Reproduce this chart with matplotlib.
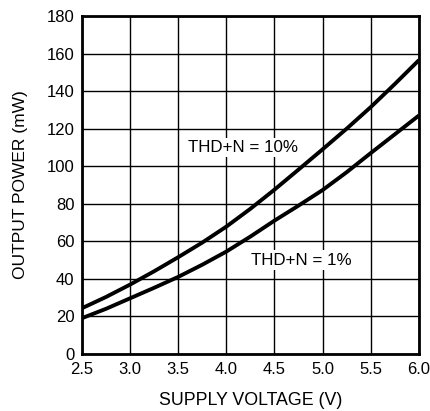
import numpy as np
import matplotlib
matplotlib.use("Agg")
import matplotlib.pyplot as plt

plt.rcParams['font.family'] = ['Liberation Sans', 'DejaVu Sans']

voltage = [2.5, 2.75, 3.0, 3.25, 3.5, 3.75, 4.0, 4.25, 4.5, 4.75, 5.0, 5.25, 5.5, 5.75, 6.0]
power_10 = [24.3, 30.3, 36.9, 44.0, 51.5, 59.3, 67.8, 77.3, 87.5, 98.2, 109.0, 120.0, 131.5, 143.8, 156.5]
power_1 = [19.0, 24.0, 29.6, 35.2, 41.0, 47.5, 54.5, 62.5, 71.0, 79.0, 87.3, 96.8, 107.0, 117.0, 127.0]

xticks = [2.5, 3.0, 3.5, 4.0, 4.5, 5.0, 5.5, 6.0]
yticks = [0, 20, 40, 60, 80, 100, 120, 140, 160, 180]


def main():
    fig = plt.figure(figsize=(4.31, 4.11), dpi=100)
    ax = fig.add_axes([0.190, 0.139, 0.782, 0.822])

    ax.plot(voltage, power_10, color='black', lw=2.8, solid_capstyle='butt', zorder=3)
    ax.plot(voltage, power_1, color='black', lw=2.8, solid_capstyle='butt', zorder=3)

    ax.set_xlim(2.5, 6.0)
    ax.set_ylim(0, 180)
    ax.set_xticks(xticks)
    ax.set_xticklabels([f"{v:.1f}" for v in xticks])
    ax.set_yticks(yticks)
    ax.grid(True, color='black', lw=1.0)
    ax.tick_params(axis='x', length=0, labelsize=12, pad=5.5)
    ax.tick_params(axis='y', length=0, labelsize=12, pad=5.5)
    for s in ax.spines.values():
        s.set_linewidth(2)

    ax.set_xlabel('SUPPLY VOLTAGE (V)', fontsize=12.8)
    ax.set_ylabel('OUTPUT POWER (mW)', fontsize=12.5)
    ax.xaxis.set_label_coords(0.5, -0.112)
    ax.yaxis.set_label_coords(-0.16, 0.5)

    ax.text(4.17, 110, 'THD+N = 10%', fontsize=12.2, ha='center', va='center',
            bbox=dict(facecolor='white', edgecolor='none', pad=1.5), zorder=4)
    ax.text(4.78, 50, 'THD+N = 1%', fontsize=12.2, ha='center', va='center',
            bbox=dict(facecolor='white', edgecolor='none', pad=1.5), zorder=4)

    fig.savefig('out.png', dpi=100)


if __name__ == "__main__":
    main()
